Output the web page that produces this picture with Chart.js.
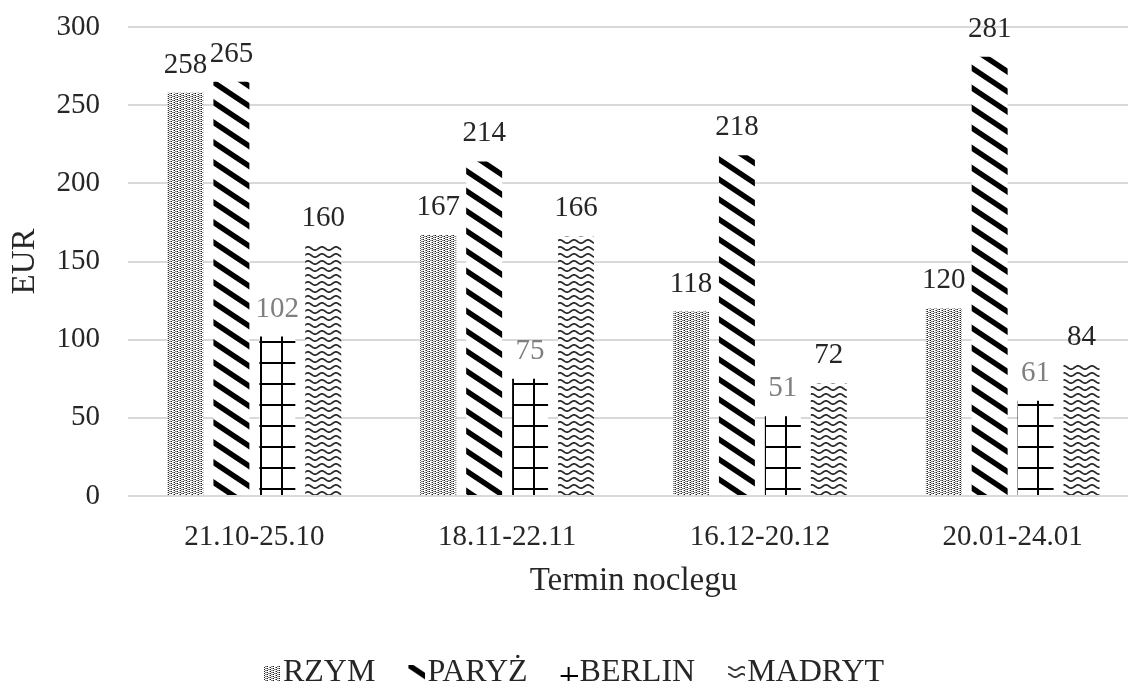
<!DOCTYPE html>
<html lang="pl">
<head>
<meta charset="utf-8">
<title>Termin noclegu - EUR</title>
<script src="https://cdn.jsdelivr.net/npm/chart.js@4.4.1/dist/chart.umd.min.js"></script>
<style>
    html, body { margin: 0; padding: 0; background: #fff; overflow: hidden; }
    /* le canvas dépasse un peu la fenêtre, comme le graphique d'origine (rogné à droite et en bas) */
    #priceChartContainer { position: absolute; left: 0; top: 0; width: 1139px; height: 699px; }
</style>
</head>
<body>
<div id="priceChartContainer"><canvas id="priceChart" width="1139" height="699"></canvas></div>
<script>
// Données
const terms = ["21.10-25.10", "18.11-22.11", "16.12-20.12", "20.01-24.01"];
const cityNames = ["RZYM", "PARYŻ", "BERLIN", "MADRYT"];
const rzym = [258, 167, 118, 120];
const paryz = [265, 214, 218, 281];
const berlin = [102, 75, 51, 61];
const madryt = [160, 166, 72, 84];
const yTicks = [0, 50, 100, 150, 200, 250, 300];

const FONT = "'Liberation Serif', 'Times New Roman', serif";
const TEXT = "#262626";

/**
 * Petit canvas blanc servant de motif de remplissage.
 */
function makeTile(w, h, draw) {
    const c = document.createElement("canvas");
    c.width = w;
    c.height = h;
    const g = c.getContext("2d");
    g.fillStyle = "#fff";
    g.fillRect(0, 0, w, h);
    draw(g);
    return c;
}

const scratch = document.createElement("canvas").getContext("2d");

// RZYM : trame pointillée
const rzymTile = makeTile(6, 4, (g) => {
    g.fillStyle = "#1e1e1e";
    [[0, 0], [0, 2], [3, 1], [3, 3]].forEach(([x, y]) => g.fillRect(x, y, 1, 1));
    g.fillStyle = "#8c8c8c";
    [[1, 1], [2, 3], [4, 0], [5, 2], [2, 1], [5, 0], [1, 3]].forEach(([x, y]) => g.fillRect(x, y, 1, 1));
});
const rzymPattern = scratch.createPattern(rzymTile, "repeat");

// PARYŻ : larges hachures descendantes
const paryzTile = makeTile(30, 20, (g) => {
    g.strokeStyle = "#000";
    g.lineWidth = 5.5;
    for (let c = -40; c <= 40; c += 20) {
        g.beginPath();
        g.moveTo(-6, c - 4);
        g.lineTo(36, c + 24);
        g.stroke();
    }
});
const paryzPattern = scratch.createPattern(paryzTile, "repeat");

// BERLIN : quadrillage
const berlinTile = makeTile(21, 21, (g) => {
    g.fillStyle = "#000";
    g.fillRect(0, 0, 2, 21);
    g.fillRect(0, 0, 21, 2);
});
const berlinPattern = scratch.createPattern(berlinTile, "repeat");
berlinPattern.setTransform(new DOMMatrix().translate(8, 5));

// MADRYT : vagues
const madrytTile = makeTile(14, 7, (g) => {
    g.strokeStyle = "#2b2b2b";
    g.lineWidth = 1.8;
    g.beginPath();
    for (let x = -1; x <= 15; x += 0.5) {
        const y = 3.5 - 1.6 * Math.cos((x / 14) * 2 * Math.PI);
        if (x === -1) g.moveTo(x, y); else g.lineTo(x, y);
    }
    g.stroke();
});
const madrytPattern = scratch.createPattern(madrytTile, "repeat");

/**
 * Marqueur de légende : la partie gauche reste transparente pour coller le motif au texte.
 */
function makeMarker(draw) {
    const c = document.createElement("canvas");
    c.width = 40;
    c.height = 20;
    const g = c.getContext("2d");
    g.translate(23, 2);
    draw(g);
    return c;
}

const legendMarkers = [
    makeMarker((g) => { g.fillStyle = rzymPattern; g.fillRect(0, 1, 16, 15); }),
    makeMarker((g) => { g.fillStyle = paryzPattern; g.fillRect(0, 0, 17, 16); }),
    makeMarker((g) => {
        g.fillStyle = "#000";
        g.fillRect(7, 2, 2, 14);
        g.fillRect(0, 10, 17, 2);
    }),
    makeMarker((g) => { g.fillStyle = madrytPattern; g.fillRect(0, 1, 17, 14); }),
];

const fills = [rzymPattern, paryzPattern, berlinPattern, madrytPattern];
const labelColors = [TEXT, TEXT, "#7f7f7f", TEXT];

/**
 * Valeurs affichées au-dessus des barres.
 */
const valueLabels = {
    id: "valueLabels",
    afterDatasetsDraw(chart) {
        const ctx = chart.ctx;
        ctx.save();
        ctx.font = `29px ${FONT}`;
        ctx.textAlign = "center";
        ctx.textBaseline = "alphabetic";
        chart.data.datasets.forEach((ds, i) => {
            ctx.fillStyle = labelColors[i];
            chart.getDatasetMeta(i).data.forEach((bar, j) => {
                ctx.fillText(String(ds.data[j]), bar.x, bar.y - 20);
            });
        });
        ctx.restore();
    },
};

Chart.defaults.font.family = FONT;
Chart.defaults.color = TEXT;

const series = [rzym, paryz, berlin, madryt];

new Chart(document.getElementById("priceChart"), {
    type: "bar",
    data: {
        labels: terms,
        datasets: series.map((values, i) => ({
            label: cityNames[i],
            data: values,
            backgroundColor: fills[i],
            borderWidth: 0,
            categoryPercentage: 0.727,
            barPercentage: 0.783,
        })),
    },
    options: {
        responsive: false,
        animation: false,
        layout: { padding: { top: 27, left: 0, right: 0, bottom: 0 } },
        plugins: {
            tooltip: { enabled: false },
            legend: {
                position: "bottom",
                labels: {
                    usePointStyle: true,
                    boxWidth: 12,
                    boxHeight: 12,
                    padding: 24,
                    font: { size: 32 },
                    generateLabels(chart) {
                        return chart.data.datasets.map((ds, i) => ({
                            text: ds.label,
                            fillStyle: fills[i],
                            strokeStyle: "transparent",
                            lineWidth: 0,
                            pointStyle: legendMarkers[i],
                            fontColor: TEXT,
                            hidden: false,
                            datasetIndex: i,
                        }));
                    },
                },
            },
        },
        scales: {
            x: {
                grid: { display: false },
                border: { display: false },
                ticks: { padding: 15.6, maxRotation: 0, font: { size: 29 }, color: TEXT },
                title: {
                    display: true,
                    text: "Termin noclegu",
                    font: { size: 33 },
                    color: TEXT,
                    padding: { top: 0, bottom: 32.2 },
                },
                afterFit(scale) { scale.height = 137; },
            },
            y: {
                min: yTicks[0],
                max: yTicks[yTicks.length - 1],
                ticks: { stepSize: yTicks[1] - yTicks[0], padding: 28, font: { size: 29 }, color: TEXT },
                grid: { color: "#d9d9d9", lineWidth: 2, drawTicks: false },
                border: { display: false },
                title: {
                    display: true,
                    text: "EUR",
                    font: { size: 33 },
                    color: TEXT,
                    padding: { top: 5.2, bottom: 0 },
                },
                afterFit(scale) {
                    scale.width = 128;
                    // le haut de la zone est fixé par layout.padding
                    scale.paddingTop = 0;
                    scale.paddingBottom = 0;
                },
            },
        },
    },
    plugins: [valueLabels],
});
</script>
</body>
</html>
